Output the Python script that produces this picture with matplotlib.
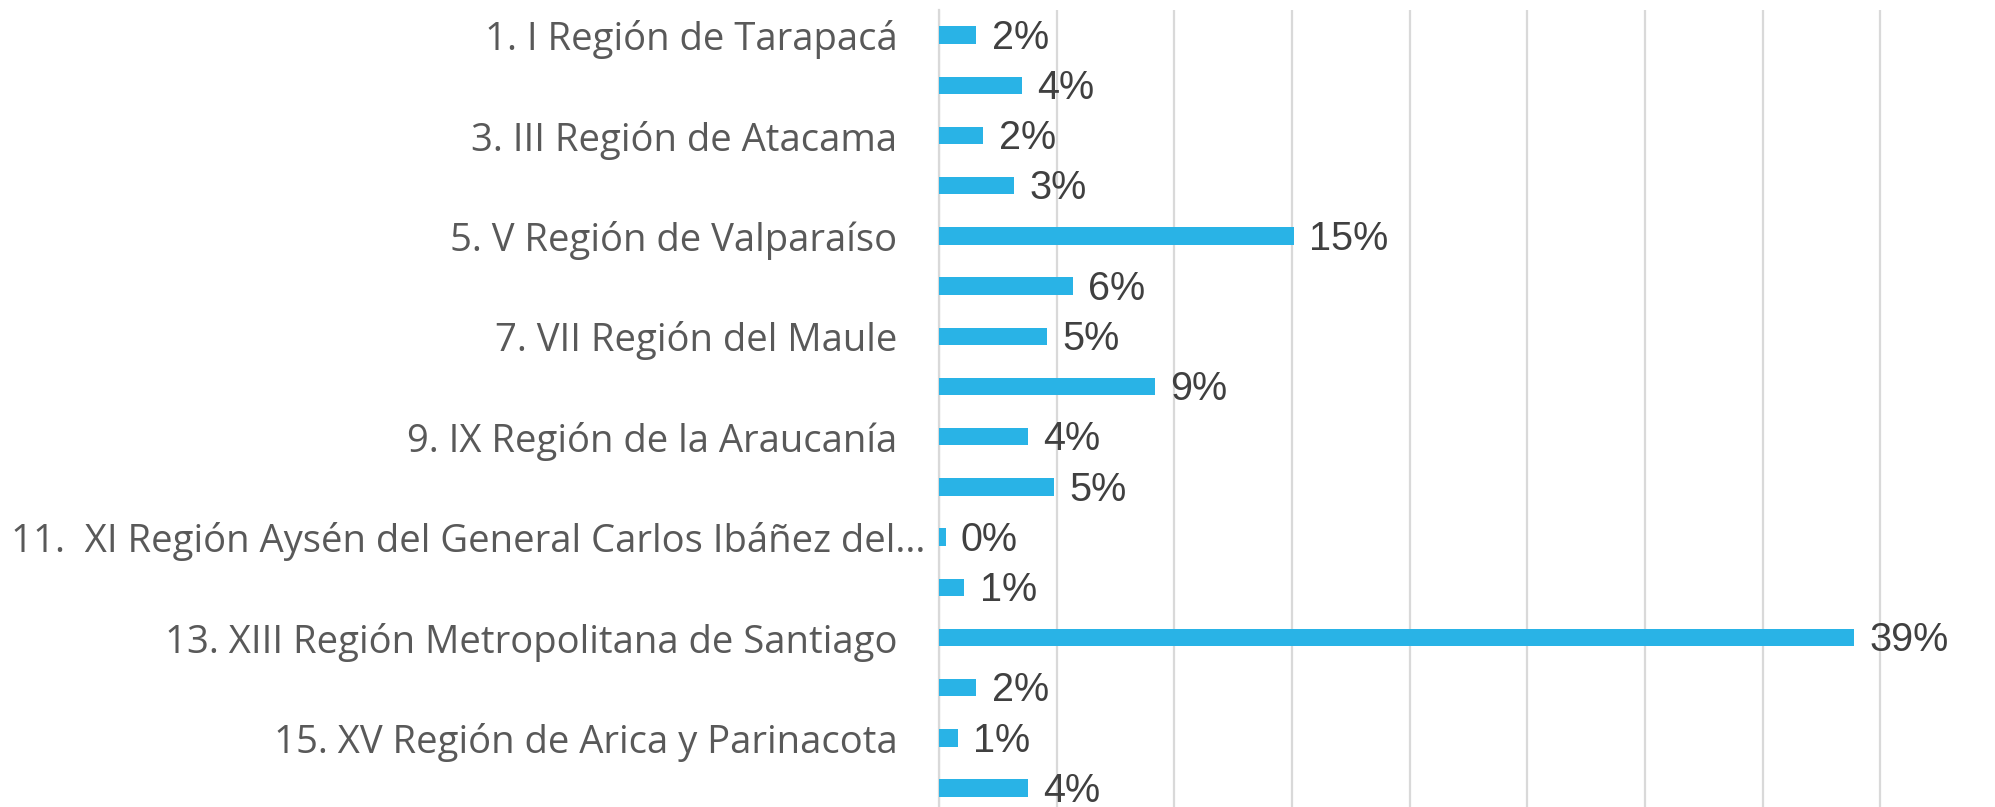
import matplotlib
matplotlib.use("Agg")
import matplotlib.pyplot as plt
from matplotlib.transforms import ScaledTranslation

# category labels (Excel only printed every other one)
labels = ["1. I Región de Tarapacá", "", "3. III Región de Atacama", "",
          "5. V Región de Valparaíso", "", "7. VII Región del Maule", "",
          "9. IX Región de la Araucanía", "",
          "11.  XI Región Aysén del General Carlos Ibáñez del...", "",
          "13. XIII Región Metropolitana de Santiago", "",
          "15. XV Región de Arica y Parinacota", ""]
# share of total, percent
values = [1.59, 3.52, 1.88, 3.19, 15.08, 5.69, 4.59, 9.19,
          3.79, 4.90, 0.28, 1.08, 38.88, 1.59, 0.79, 3.79]
xticks = [0, 5, 10, 15, 20, 25, 30, 35, 40, 45]

fig = plt.figure(figsize=(19.95, 8.07), dpi=100)
ax = fig.add_axes([939 / 1995, -6.2 / 807, 1059 / 1995, 803.2 / 807])
y = list(range(len(values)))
ax.barh(y, values, height=0.345, color="#29b3e6", zorder=3)
for yi, v in zip(y, values):
    ax.annotate(f"{v:.0f}%", (v, yi), xytext=(11, -2), textcoords="offset points",
                va="center", ha="left", fontsize=28.5, color="#404040",
                family="Liberation Sans")

ax.set_xlim(0, 45); ax.set_ylim(15.5, -0.5)
ax.set_xticks(xticks); ax.set_xticklabels([])
ax.tick_params(axis="x", length=0)
ax.grid(axis="x", color="#d9d9d9", lw=1.6, zorder=0)
ax.set_yticks(y); ax.set_yticklabels(labels, family="Open Sans", fontsize=27.5, color="#595959")
ax.tick_params(axis="y", length=0, pad=30)
for s in ["top", "right", "bottom"]:
    ax.spines[s].set_visible(False)
ax.spines["left"].set_color("#d9d9d9"); ax.spines["left"].set_linewidth(1.6)
# the truncated label sits closer to the axis
lab = ax.get_yticklabels()[10]
lab.set_transform(lab.get_transform() + ScaledTranslation(0.28, 0, fig.dpi_scale_trans))
fig.savefig("out.png", dpi=100)
